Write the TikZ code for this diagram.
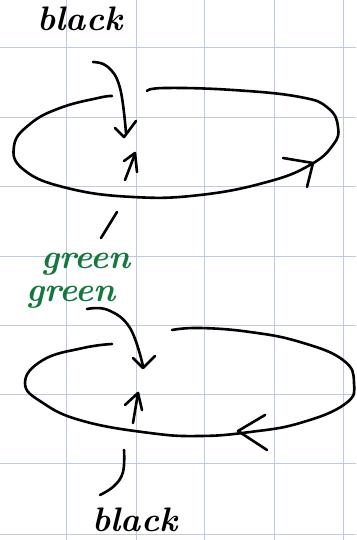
\documentclass[tikz,border=0pt]{standalone}
\usetikzlibrary{calc}
\definecolor{gridc}{RGB}{190,202,226}
\definecolor{penGreen}{RGB}{20,120,60}
\tikzset{
  ink/.style={line width=2.6pt, line cap=round, line join=round, black},
  gridline/.style={line width=1pt, gridc},
  hand/.style={font=\bfseries\itshape\fontsize{34}{34}\selectfont, inner sep=0pt},
}
\begin{document}
\begin{tikzpicture}[x=1pt,y=-1pt]
\fill[white] (0,0) rectangle (356,540);
\useasboundingbox (0,0) rectangle (356,540);
% grid
\foreach \gx in {66,136,204,274,343} \draw[gridline] (\gx,0) -- (\gx,540);
\foreach \gy in {48,118,186,256,325,394,463,534} \draw[gridline] (0,\gy) -- (356,\gy);

% labels
\node[hand, anchor=base] (blackTop) at (80,31) {black};
\node[hand, anchor=base, penGreen] (greenA) at (86,268) {green};
\node[hand, anchor=base, penGreen] (greenB) at (71,301) {green};
\node[hand, anchor=base] (blackBot) at (135,531) {black};

% top loop
\draw[ink] plot[smooth, tension=0.75] coordinates {(112,96) (98,98) (60,108) (30,124) (14,146) (24,170) (67,188) (133,197) (200,195) (267,182) (310,165) (333,145) (338,127) (328,108) (300,97) (233,90) (165,88) (147,91)};
\draw[ink] (283,158) -- (313,163) -- (307,187);
% black arrow into top loop
\draw[ink] plot[smooth, tension=0.7] coordinates {(93,62) (108,67) (120,88) (126,133)};
\draw[ink] (115,128) -- (124,137) -- (136,121);
% up arrow in top loop
\draw[ink] (125,180) -- (135,154);
\draw[ink] (124,161) -- (135,153) -- (137,172);
% stub below top loop
\coordinate (s1a) at (117,212);
\coordinate (s1b) at (101,238);
\draw[ink] (s1a) -- (s1b);

% bottom loop
\draw[ink] plot[smooth, tension=0.75] coordinates {(112,344) (83,348) (43,360) (25,383) (43,403) (83,421) (150,433) (200,436) (250,432) (300,423) (345,404) (354,383) (343,360) (300,342) (250,332) (200,328) (172,330)};
\draw[ink] (265,415) -- (238,431) -- (267,450);
% arrow into bottom loop
\draw[ink] plot[smooth, tension=0.7] coordinates {(87,309) (108,310) (130,328) (143,366)};
\draw[ink] (133,358) -- (143,368) -- (155,356);
% up arrow in bottom loop
\draw[ink] (133,423) -- (138,393);
\draw[ink] (125,405) -- (138,393) -- (142,410);
% stub above bottom label
\coordinate (s2a) at (124,450);
\coordinate (s2b) at (100,495);
\draw[ink] plot[smooth, tension=0.7] coordinates {(s2a) (123,472) (114,486) (s2b)};
\end{tikzpicture}
\end{document}
